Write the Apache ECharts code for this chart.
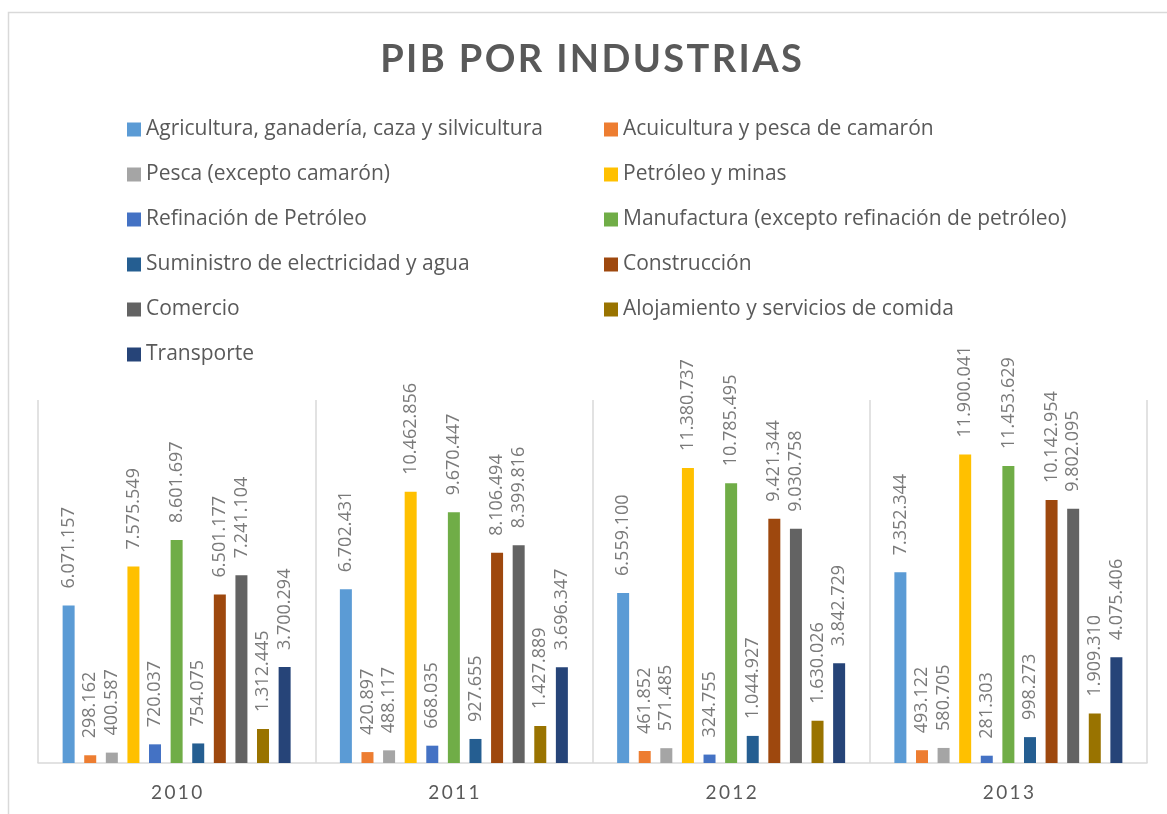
<!DOCTYPE html>
<html>
<head>
<meta charset="utf-8">
<style>
  html, body { margin: 0; padding: 0; background: #fff; }
  #chart { width: 1167px; height: 814px; }
</style>
<script src="https://cdn.jsdelivr.net/npm/echarts@6/dist/echarts.min.js"></script>
</head>
<body>
<div id="chart"></div>
<script>
// Years on the category axis
const years = ['2010', '2011', '2012', '2013'];

// Industry names (series)
const industries = [
  'Agricultura, ganadería, caza y silvicultura',
  'Acuicultura y pesca de camarón',
  'Pesca (excepto camarón)',
  'Petróleo y minas',
  'Refinación de Petróleo',
  'Manufactura (excepto refinación de petróleo)',
  'Suministro de electricidad y agua',
  'Construcción',
  'Comercio',
  'Alojamiento y servicios de comida',
  'Transporte'
];

// Values per industry, one per year
const agricultura   = [6071157, 6702431, 6559100, 7352344];
const acuicultura   = [298162, 420897, 461852, 493122];
const pesca         = [400587, 488117, 571485, 580705];
const petroleo      = [7575549, 10462856, 11380737, 11900041];
const refinacion    = [720037, 668035, 324755, 281303];
const manufactura   = [8601697, 9670447, 10785495, 11453629];
const electricidad  = [754075, 927655, 1044927, 998273];
const construccion  = [6501177, 8106494, 9421344, 10142954];
const comercio      = [7241104, 8399816, 9030758, 9802095];
const alojamiento   = [1312445, 1427889, 1630026, 1909310];
const transporte    = [3700294, 3696347, 3842729, 4075406];

const seriesValues = [
  agricultura, acuicultura, pesca, petroleo, refinacion, manufactura,
  electricidad, construccion, comercio, alojamiento, transporte
];

const palette = [
  '#5B9BD5', '#ED7D31', '#A5A5A5', '#FFC000', '#4472C4', '#70AD47',
  '#255E91', '#9E480E', '#636363', '#997300', '#264478'
];

const FONT = '"Open Sans", Lato, sans-serif';
const TITLE_FONT = 'Lato, "Open Sans", sans-serif';

// Thousands separated with dots
function fmt(v) {
  return String(v).replace(/\B(?=(\d{3})+(?!\d))/g, '.');
}
// Spread letters a little
function spaced(s, sep) {
  return s.split('').join(sep);
}

const chart = echarts.init(document.getElementById('chart'));

const series = industries.map((name, i) => ({
  name: name,
  type: 'bar',
  data: seriesValues[i],
  barWidth: 12,
  barGap: '80%',
  itemStyle: { color: palette[i] },
  label: {
    show: true,
    position: 'top',
    distance: 17,
    rotate: 90,
    align: 'left',
    verticalAlign: 'middle',
    color: '#7a7a7a',
    fontSize: 18,
    fontFamily: FONT,
    formatter: p => fmt(p.value)
  }
}));

const legendText = {
  color: '#595959',
  fontSize: 21,
  lineHeight: 20,
  fontFamily: FONT
};

chart.setOption({
  animation: false,
  backgroundColor: '#ffffff',
  title: {
    text: spaced('PIB POR INDUSTRIAS', '\u200A'),
    left: 586,
    textAlign: 'center',
    top: 36,
    textStyle: {
      color: '#595959',
      fontSize: 38,
      fontWeight: 'bold',
      fontFamily: TITLE_FONT
    }
  },
  legend: [
    {
      orient: 'vertical',
      left: 127,
      top: 119,
      padding: 0,
      itemWidth: 14,
      itemHeight: 14,
      itemGap: 24,
      icon: 'rect',
      data: industries.filter((_, i) => i % 2 === 0),
      textStyle: legendText
    },
    {
      orient: 'vertical',
      left: 604,
      top: 119,
      padding: 0,
      itemWidth: 14,
      itemHeight: 14,
      itemGap: 24,
      icon: 'rect',
      data: industries.filter((_, i) => i % 2 === 1),
      textStyle: legendText
    }
  ],
  grid: { left: 38, right: 20, top: 400, bottom: 51 },
  xAxis: {
    type: 'category',
    data: years,
    axisLine: { lineStyle: { color: '#d9d9d9', width: 1.5 } },
    axisTick: { show: false },
    splitLine: { show: true, lineStyle: { color: '#d9d9d9', width: 1.5 } },
    axisLabel: {
      color: '#595959',
      fontSize: 19,
      fontFamily: TITLE_FONT,
      margin: 20,
      formatter: v => spaced(v, '\u2009')
    }
  },
  yAxis: {
    type: 'value',
    min: 0,
    max: 14000000,
    show: false
  },
  graphic: [
    {
      type: 'rect',
      silent: true,
      shape: { x: 8.5, y: 12.5, width: 1200, height: 900 },
      style: { fill: 'none', stroke: '#d9d9d9', lineWidth: 1.5 }
    }
  ],
  series: series
});
</script>
</body>
</html>
